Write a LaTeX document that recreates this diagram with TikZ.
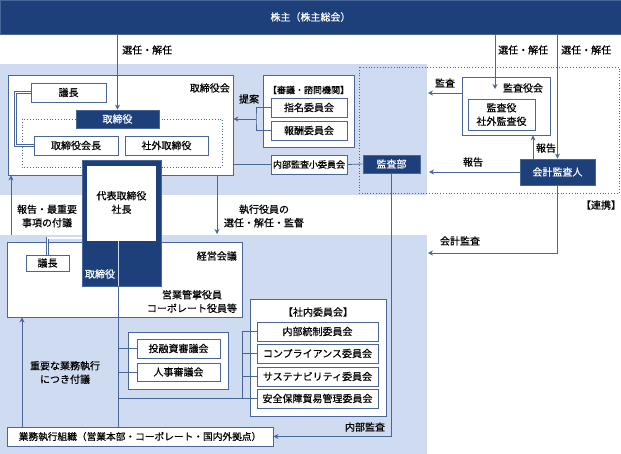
\documentclass[tikz,border=0pt]{standalone}
\usepackage{fontspec}
\setmainfont{Noto Sans CJK JP}[FakeBold=0.5]
\usepackage{tikz}
\usetikzlibrary{arrows.meta,calc}
\definecolor{kgnavy}{RGB}{30,64,122}
\definecolor{kgband}{RGB}{206,219,241}
\definecolor{kgline}{RGB}{72,102,152}
\tikzstyle{arrow} = [line width=0.8pt,->,>={Stealth[length=5pt,width=5pt]},color=kgline]
\tikzstyle{link} = [line width=0.8pt,color=kgline]
\tikzstyle{dline} = [draw=kgline,line width=0.6pt,double=white,double distance=1.4pt]
\tikzstyle{box} = [draw=kgline,line width=0.8pt,fill=white,inner sep=0pt]
\tikzstyle{darkbox} = [draw=kgline,line width=0.8pt,fill=kgnavy,text=white,inner sep=0pt]
\tikzstyle{lbl} = [inner sep=0pt,align=center]
\tikzstyle{small} = [font=\fontsize{9}{11}\selectfont]

\begin{document}
\begin{tikzpicture}[x=1pt,y=-1pt,font=\fontsize{10}{13.5}\selectfont]
\useasboundingbox (0,0) rectangle (621,454);
% Bands
\fill[kgband] (0,64) rectangle (427,195);
\fill[kgband] (0,235) rectangle (427,454);
\draw[kgline,dotted,line width=0.8pt] (359,67) rectangle (619,193);

% Shareholders
\node[darkbox, minimum width=621, minimum height=34] (top) at (310.5,17) {株主（株主総会）};
\node[lbl, anchor=west] at (122,50) {選任・解任};
\node[lbl, anchor=west] at (498,50) {選任・解任};
\node[lbl, anchor=west] at (561,50) {選任・解任};

% Board
\node[box, minimum width=225, minimum height=100] (board) at (120.5,125) {};
\node[lbl, anchor=east] at (230,88) {取締役会};
\draw[kgline,dotted,line width=0.8pt] (22,119) rectangle (222,167);
\node[box, minimum width=75, minimum height=19] (bchair) at (68.5,92.5) {議長};
\node[darkbox, minimum width=83, minimum height=18] (director) at (117.5,119) {取締役};
\node[box, minimum width=84, minimum height=19] (chairman) at (76,145.5) {取締役会長};
\node[box, minimum width=83, minimum height=19] (outside) at (166.5,145.5) {社外取締役};

% Advisory
\node[box, minimum width=91, minimum height=72] (advisory) at (308.5,111) {};
\node[lbl, small] at (308.5,90) {【審議・諮問機関】};
\node[box, minimum width=76, minimum height=19] (nomination) at (309,107.5) {指名委員会};
\node[box, minimum width=76, minimum height=19] (remuneration) at (309,130.5) {報酬委員会};
\node[box, small, minimum width=76, minimum height=19] (auditsub) at (309,164.5) {内部監査小委員会};
\node[lbl] at (249,99) {提案};
\node[darkbox, minimum width=57, minimum height=18] (auditdept) at (391.5,164) {監査部};

% Auditors
\node[box, minimum width=88, minimum height=58] (kansayakukai) at (506,106) {};
\node[lbl] at (523,88) {監査役会};
\node[box, minimum width=67, minimum height=31, align=center] (kansayaku) at (501.5,114.5) {監査役\\社外監査役};
\node[darkbox, minimum width=75, minimum height=26] (accountant) at (557.5,172) {会計監査人};
\node[lbl] at (445,83) {監査};
\node[lbl] at (546,148) {報告};
\node[lbl] at (473,162) {報告};
\node[lbl] at (601,205) {【連携】};
\node[lbl] at (460,241) {会計監査};

% Management
\node[box, minimum width=235, minimum height=75] (mgmt) at (124.5,279.5) {};
\node[lbl, anchor=east] at (237,256) {経営会議};
\node[box, minimum width=43, minimum height=16] (mchair) at (47.5,263) {議長};
\node[lbl] at (192,301.5) {営業管掌役員\\コーポレート役員等};

% President
\node[darkbox, minimum width=79, minimum height=126] (president) at (121.5,223) {};
\node[fill=white, minimum width=69, minimum height=75, inner sep=0pt] (presbox) at (121.5,203.5) {};
\node[lbl] at (121.5,202.5) {代表取締役\\社長};
\node[lbl, text=white] at (100,274) {取締役};

\node[lbl] at (264,216) {執行役員の\\選任・解任・監督};
\node[lbl] at (47,216) {報告・最重要\\事項の付議};
\node[lbl] at (65,372.5) {重要な業務執行\\につき付議};

% Councils and committees
\node[box, minimum width=100, minimum height=57] (council) at (178,360.5) {};
\node[box, minimum width=83, minimum height=19] (investment) at (178.5,348.5) {投融資審議会};
\node[box, minimum width=83, minimum height=18] (personnel) at (178.5,372) {人事審議会};
\node[box, minimum width=136, minimum height=117] (committees) at (318,357.5) {};
\node[lbl] at (318,312) {【社内委員会】};
\node[box, minimum width=121, minimum height=19] (internal) at (317.5,331.5) {内部統制委員会};
\node[box, minimum width=121, minimum height=19] (compliance) at (317.5,353.5) {コンプライアンス委員会};
\node[box, minimum width=121, minimum height=19] (sustain) at (317.5,376.5) {サステナビリティ委員会};
\node[box, minimum width=121, minimum height=19] (trade) at (317.5,398.5) {安全保障貿易管理委員会};

\node[box, minimum width=266, minimum height=19, font=\fontsize{9.7}{12}\selectfont] (operations) at (140,436.5) {業務執行組織（営業本部・コーポレート・国内外拠点）};
\node[lbl] at (365,427) {内部監査};

% Connectors
\coordinate (kstop) at (495,89);
\coordinate (propose) at (256,119);
\coordinate (audfoot) at (428,93);
\coordinate (rep) at (533,159);
\coordinate (repfoot) at (429,172);
\coordinate (kaikei) at (428,253);
\coordinate (exec) at (217,234);
\coordinate (rptfoot) at (11,235);
\coordinate (opfoot) at (22,427);
\coordinate (execline) at (118,241);
\coordinate (cbr) at (242,398);
\coordinate (mjoin) at (82,238);

\draw[arrow] (director.north |- top.south) -- (director.north);
\draw[arrow] (kstop |- top.south) -- (kstop);
\draw[arrow] (accountant.north |- top.south) -- (accountant.north);
\draw[dline] (bchair.west) -- ++(-15,0) |- (chairman.west);
\draw[link] (nomination.west) -| (propose) |- (remuneration.west);
\draw[arrow] (propose) -- (propose -| board.east);
\draw[link] (board.east |- auditsub.west) -- (auditsub.west);
\draw[link] (auditsub.east) -- (auditdept.west);
\draw[arrow] ([yshift=13pt]kansayakukai.west) -- (audfoot);
\draw[arrow] (rep) -- (rep |- kansayakukai.south);
\draw[arrow] (accountant.west) -- (repfoot);
\draw[arrow] (accountant.south) |- (kaikei);
\draw[arrow] (exec |- board.south) -- (exec);
\draw[arrow] (rptfoot) -- (rptfoot |- board.south);
\draw[dline] (mchair.north) |- (mjoin);
\draw[arrow] (opfoot) -- (opfoot |- mgmt.south);
\draw[link] (execline) -- (execline |- operations.north);
\draw[line width=0.8pt, kgband] (execline) -- (execline |- president.south);
\draw[link] (investment.west) -- (investment.west -| execline);
\draw[link] (personnel.west) -- (personnel.west -| execline);
\draw[link] (internal.west) -| (cbr) -- (cbr -| execline);
\foreach \c in {compliance,sustain,trade}
  \draw[link] (\c.west) -- (\c.west -| cbr);
\draw[arrow] (auditdept.south) |- (operations.east);
\end{tikzpicture}
\end{document}
